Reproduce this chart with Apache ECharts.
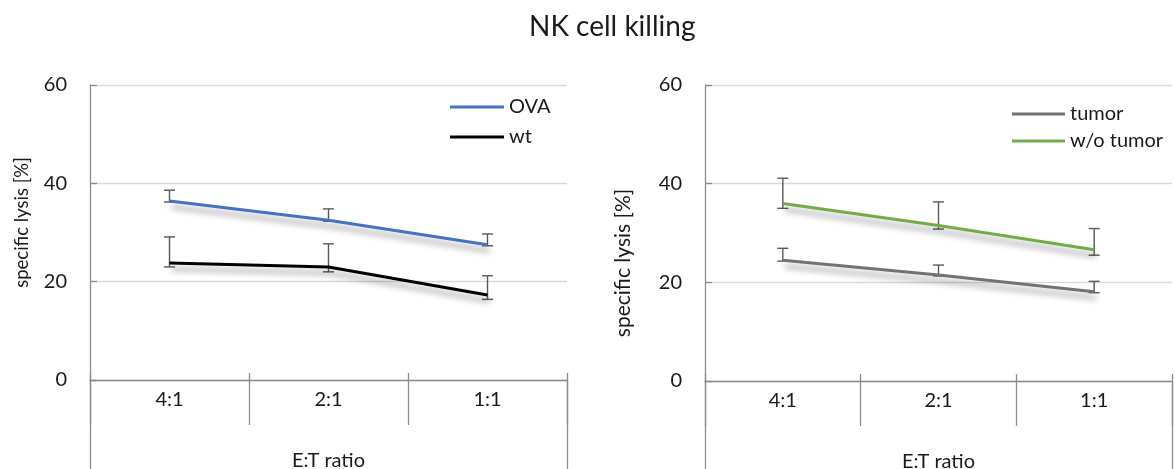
<!DOCTYPE html>
<html>
<head>
<meta charset="utf-8">
<script src="https://cdn.jsdelivr.net/npm/echarts@6/dist/echarts.min.js"></script>
<style>
  html, body { margin: 0; padding: 0; background: #fff; }
  #chart { width: 1175px; height: 469px; }
</style>
</head>
<body>
<div id="chart"></div>
<script>
// E:T ratios on the category axis
const categories = ['4:1', '2:1', '1:1'];
const groupLabel = ['E:T ratio'];
const yTicks = { min: 0, max: 60, interval: 20 };

// Left panel: OVA vs wt (mean, lower and upper error bounds)
const ovaMean = [36.4, 32.5, 27.5];
const ovaLow  = [36.2, 32.3, 27.3];
const ovaHigh = [38.6, 34.8, 29.7];

const wtMean = [23.8, 23.0, 17.3];
const wtLow  = [23.0, 22.0, 16.4];
const wtHigh = [29.1, 27.7, 21.2];

// Right panel: tumor vs w/o tumor
const tumorMean = [24.5, 21.5, 18.1];
const tumorLow  = [24.3, 21.3, 17.9];
const tumorHigh = [26.9, 23.5, 20.2];

const woTumorMean = [36.0, 31.5, 26.6];
const woTumorLow  = [35.0, 30.8, 25.5];
const woTumorHigh = [41.1, 36.3, 30.9];

const FONT = 'Lato';
const AXIS = '#8c8c8c';
const GRID = '#d9d9d9';
const TEXT = '#1a1a1a';
const ERR = '#595959';

// Error bar: vertical whisker with caps at both bounds
function errorBar(params, api) {
  const i = api.value(0);
  const lo = api.coord([i, api.value(1)]);
  const hi = api.coord([i, api.value(2)]);
  const w = 5.5;
  const style = { stroke: ERR, lineWidth: 1.4 };
  return {
    type: 'group',
    children: [
      { type: 'line', shape: { x1: hi[0], y1: hi[1], x2: lo[0], y2: lo[1] }, style },
      { type: 'line', shape: { x1: hi[0] - w, y1: hi[1], x2: hi[0] + w, y2: hi[1] }, style },
      { type: 'line', shape: { x1: lo[0] - w, y1: lo[1], x2: lo[0] + w, y2: lo[1] }, style }
    ]
  };
}

function errSeries(name, low, high, axisIdx) {
  return {
    name: name,
    type: 'custom',
    xAxisIndex: axisIdx * 3,
    yAxisIndex: axisIdx,
    renderItem: errorBar,
    encode: { x: 0, y: [1, 2] },
    data: categories.map((c, i) => [i, low[i], high[i]]),
    z: 1,
    silent: true
  };
}

function lineSeries(name, values, color, axisIdx) {
  return {
    name: name,
    type: 'line',
    xAxisIndex: axisIdx * 3,
    yAxisIndex: axisIdx,
    data: values,
    showSymbol: false,
    symbol: 'none',
    z: 3,
    lineStyle: {
      color: color, width: 3,
      shadowColor: 'rgba(0,0,0,0.4)', shadowBlur: 6,
      shadowOffsetX: 2, shadowOffsetY: 6
    },
    itemStyle: { color: color }
  };
}

// three stacked x axes per panel: ratio labels, inner tick stubs, group label box
function xAxes(gridIndex) {
  return [
    {
      type: 'category', gridIndex, position: 'bottom', data: categories,
      boundaryGap: true,
      axisLine: { show: true, lineStyle: { color: AXIS, width: 1.3 } },
      axisTick: { show: true, interval: 0, length: 45, lineStyle: { color: AXIS, width: 1.3 } },
      axisLabel: { interval: 0, margin: 10, fontFamily: FONT, fontSize: 20, color: TEXT },
      splitLine: { show: false }
    },
    {
      type: 'category', gridIndex, position: 'bottom', data: categories,
      boundaryGap: true,
      axisLine: { show: false },
      axisTick: { show: true, inside: true, interval: 0, length: 7, lineStyle: { color: AXIS, width: 1.3 } },
      axisLabel: { show: false },
      splitLine: { show: false }
    },
    {
      type: 'category', gridIndex, position: 'bottom', data: groupLabel,
      boundaryGap: true,
      axisLine: { show: false },
      axisTick: { show: true, interval: 0, length: 89, lineStyle: { color: AXIS, width: 1.3 } },
      axisLabel: { interval: 0, margin: 71, fontFamily: FONT, fontSize: 20, color: TEXT },
      splitLine: { show: false }
    }
  ];
}

function yAxis(gridIndex, nameGap, nameSize, namePadding) {
  return {
    type: 'value', gridIndex,
    min: yTicks.min, max: yTicks.max, interval: yTicks.interval,
    name: 'specific lysis [%]', nameLocation: 'middle', nameRotate: 90, nameGap,
    nameTextStyle: { fontFamily: FONT, fontSize: nameSize, color: TEXT, padding: namePadding },
    axisLine: { show: true, lineStyle: { color: AXIS, width: 1.3 } },
    axisTick: { show: true, inside: true, length: 7, lineStyle: { color: AXIS, width: 1.3 } },
    axisLabel: { margin: 23, fontFamily: FONT, fontSize: 20, color: TEXT },
    splitLine: { show: true, lineStyle: { color: GRID, width: 1.3 } }
  };
}

const chart = echarts.init(document.getElementById('chart'), null, { renderer: 'canvas' });

chart.setOption({
  animation: false,
  backgroundColor: '#ffffff',
  title: {
    text: 'NK cell killing',
    left: 524, top: 8,
    textStyle: { fontFamily: FONT, fontSize: 28, fontWeight: 'normal', color: TEXT }
  },
  legend: [
    {
      data: ['OVA', 'wt'], orient: 'vertical', left: 445, top: 92,
      icon: 'rect', itemWidth: 54, itemHeight: 3, itemGap: 10,
      textStyle: { fontFamily: FONT, fontSize: 20, color: TEXT, lineHeight: 20 }
    },
    {
      data: ['tumor', 'w/o tumor'], orient: 'vertical', left: 1007, top: 99,
      icon: 'rect', itemWidth: 53, itemHeight: 3, itemGap: 7,
      textStyle: { fontFamily: FONT, fontSize: 20, color: TEXT, lineHeight: 20 }
    }
  ],
  grid: [
    { left: 90, right: 608, top: 85, bottom: 89, containLabel: false, outerBoundsMode: 'none' },
    { left: 705, right: 3, top: 85, bottom: 88, containLabel: false, outerBoundsMode: 'none' }
  ],
  xAxis: [...xAxes(0), ...xAxes(1)],
  yAxis: [yAxis(0, 58, 18.5, [0, 0, 0, 20]), yAxis(1, 71, 21, [0, 60, 0, 0])],
  series: [
    errSeries('OVA err', ovaLow, ovaHigh, 0),
    errSeries('wt err', wtLow, wtHigh, 0),
    lineSeries('OVA', ovaMean, '#4472C4', 0),
    lineSeries('wt', wtMean, '#000000', 0),
    errSeries('tumor err', tumorLow, tumorHigh, 1),
    errSeries('w/o tumor err', woTumorLow, woTumorHigh, 1),
    lineSeries('tumor', tumorMean, '#767171', 1),
    lineSeries('w/o tumor', woTumorMean, '#70AD47', 1)
  ]
});
</script>
</body>
</html>
